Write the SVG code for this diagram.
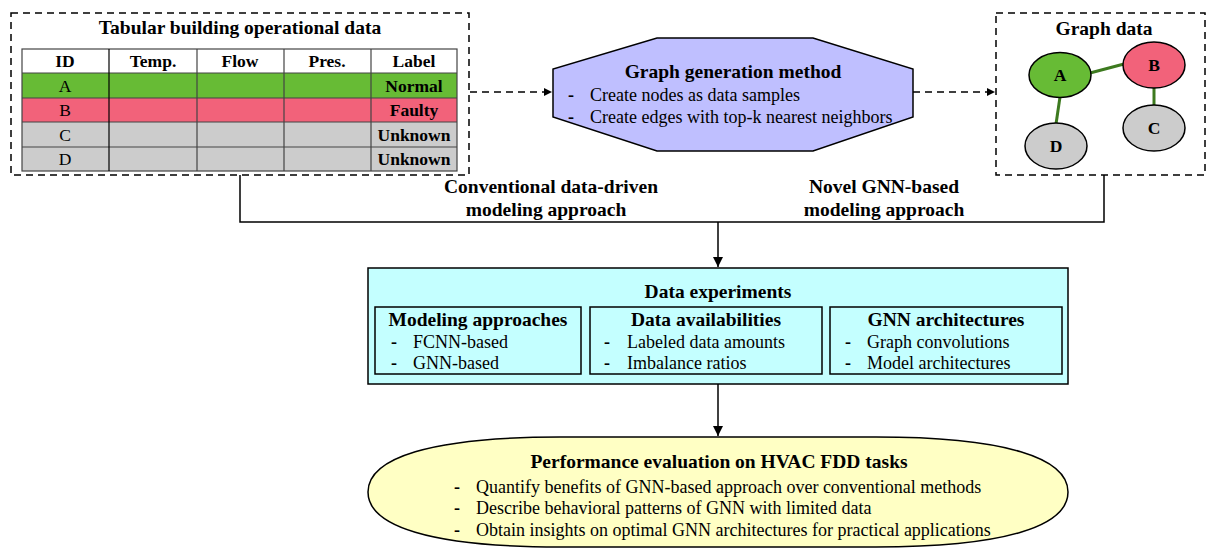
<svg xmlns="http://www.w3.org/2000/svg" width="1213" height="550" viewBox="0 0 1213 550">
<defs>
<marker id="arr" viewBox="0 0 10 10" refX="10" refY="5" markerWidth="10" markerHeight="10" markerUnits="userSpaceOnUse" orient="auto">
<path d="M0,0 L10,5 L0,10 z" fill="#000"/>
</marker>
<marker id="arrS" viewBox="0 0 10 10" refX="10" refY="5" markerWidth="9" markerHeight="8" markerUnits="userSpaceOnUse" orient="auto">
<path d="M0,0 L10,5 L0,10 z" fill="#000"/>
</marker>
</defs>
<style>
text{font-family:"Liberation Serif","Times New Roman",serif;fill:#000}
.t{font-size:19.5px;font-weight:bold;text-anchor:middle}
.b{font-size:18px}
.c{font-size:17.5px;text-anchor:middle}
.cb{font-size:17.5px;font-weight:bold;text-anchor:middle}
.dash{fill:none;stroke:#000;stroke-width:1.5;stroke-dasharray:7,5}
.grid{stroke:#444;stroke-width:1.2}
.line{fill:none;stroke:#000;stroke-width:1.5}
.edge{stroke:#3d7a1f;stroke-width:3}
.node{stroke:#000;stroke-width:1.5}
</style>
<rect width="1213" height="550" fill="#fff"/>

<g id="tabular">
<rect class="dash" x="11" y="13" width="458" height="162"/>
<text class="t" x="240" y="34">Tabular building operational data</text>
<rect x="22" y="49" width="435" height="24" fill="#fff"/>
<rect x="22" y="73" width="435" height="25" fill="#67bb35"/>
<rect x="22" y="98" width="435" height="24" fill="#f2627a"/>
<rect x="22" y="122" width="435" height="49" fill="#cccccc"/>
<g class="grid">
<rect x="22" y="49" width="435" height="122" fill="none"/>
<line x1="22" y1="73" x2="457" y2="73"/>
<line x1="22" y1="98" x2="457" y2="98"/>
<line x1="22" y1="122" x2="457" y2="122"/>
<line x1="22" y1="147" x2="457" y2="147"/>
<line x1="109" y1="49" x2="109" y2="171" stroke="#000"/>
<line x1="197" y1="49" x2="197" y2="171"/>
<line x1="284" y1="49" x2="284" y2="171"/>
<line x1="371" y1="49" x2="371" y2="171"/>
</g>
<text class="cb" x="65" y="67">ID</text>
<text class="cb" x="153" y="67">Temp.</text>
<text class="cb" x="240" y="67">Flow</text>
<text class="cb" x="327" y="67">Pres.</text>
<text class="cb" x="414" y="67">Label</text>
<text class="c" x="65" y="92">A</text>
<text class="cb" x="414" y="92">Normal</text>
<text class="c" x="65" y="116">B</text>
<text class="cb" x="414" y="116">Faulty</text>
<text class="c" x="65" y="141">C</text>
<text class="cb" x="414" y="141">Unknown</text>
<text class="c" x="65" y="165">D</text>
<text class="cb" x="414" y="165">Unknown</text>
</g>

<g id="graph-generation">
<polygon points="657,38 813,38 913,69 913,117 813,151 657,151 553,117 553,69" fill="#bfbfff" stroke="#000" stroke-width="1.5"/>
<text class="t" x="733" y="78">Graph generation method</text>
<text class="b" x="568" y="101" font-weight="bold">-</text>
<text class="b" x="590" y="101">Create nodes as data samples</text>
<text class="b" x="568" y="123" font-weight="bold">-</text>
<text class="b" x="590" y="123">Create edges with top-k nearest neighbors</text>
</g>

<g id="graph-data">
<rect class="dash" x="996" y="13" width="209" height="162"/>
<text class="t" x="1104" y="35">Graph data</text>
<line class="edge" x1="1090" y1="73" x2="1124" y2="64"/>
<line class="edge" x1="1154" y1="88" x2="1154" y2="106"/>
<line class="edge" x1="1060" y1="97" x2="1056" y2="124"/>
<ellipse class="node" cx="1060" cy="75" rx="31" ry="22.5" fill="#67bb35"/>
<ellipse class="node" cx="1154" cy="65" rx="31" ry="23" fill="#f2627a"/>
<ellipse class="node" cx="1154" cy="128" rx="31" ry="23" fill="#cccccc"/>
<ellipse class="node" cx="1056" cy="146" rx="31" ry="23" fill="#cccccc"/>
<text class="cb" x="1060" y="81" font-size="18">A</text>
<text class="cb" x="1154" y="71" font-size="18">B</text>
<text class="cb" x="1154" y="134" font-size="18">C</text>
<text class="cb" x="1056" y="152" font-size="18">D</text>
</g>

<g id="approach-labels">
<text class="t" x="551" y="193">Conventional data-driven</text>
<text class="t" x="546" y="216">modeling approach</text>
<text class="t" x="884" y="193">Novel GNN-based</text>
<text class="t" x="884" y="216">modeling approach</text>
</g>

<g id="data-experiments">
<rect x="368" y="268" width="700" height="116" fill="#c4ffff" stroke="#000" stroke-width="1.5"/>
<text class="t" x="718" y="298">Data experiments</text>
<rect x="375" y="307" width="206" height="67" fill="none" stroke="#000" stroke-width="1.5"/>
<rect x="590" y="307" width="232" height="67" fill="none" stroke="#000" stroke-width="1.5"/>
<rect x="830" y="307" width="232" height="67" fill="none" stroke="#000" stroke-width="1.5"/>
<text class="t" x="478" y="326">Modeling approaches</text>
<text class="b" x="391" y="348" font-weight="bold">-</text>
<text class="b" x="413" y="348">FCNN-based</text>
<text class="b" x="391" y="369" font-weight="bold">-</text>
<text class="b" x="413" y="369">GNN-based</text>
<text class="t" x="706" y="326">Data availabilities</text>
<text class="b" x="604" y="348" font-weight="bold">-</text>
<text class="b" x="627" y="348">Labeled data amounts</text>
<text class="b" x="604" y="369" font-weight="bold">-</text>
<text class="b" x="627" y="369">Imbalance ratios</text>
<text class="t" x="946" y="326">GNN architectures</text>
<text class="b" x="845" y="348" font-weight="bold">-</text>
<text class="b" x="867" y="348">Graph convolutions</text>
<text class="b" x="845" y="369" font-weight="bold">-</text>
<text class="b" x="867" y="369">Model architectures</text>
</g>

<g id="performance-evaluation">
<path d="M368,492 C368,458 430,437 560,437 L876,437 C1006,437 1068,458 1068,492 C1068,526 1006,547 876,547 L560,547 C430,547 368,526 368,492 Z" fill="#ffffc4" stroke="#000" stroke-width="1.5"/>
<text class="t" x="719" y="468">Performance evaluation on HVAC FDD tasks</text>
<text class="b" x="454" y="493" font-weight="bold">-</text>
<text class="b" x="476" y="493">Quantify benefits of GNN-based approach over conventional methods</text>
<text class="b" x="454" y="514" font-weight="bold">-</text>
<text class="b" x="476" y="514">Describe behavioral patterns of GNN with limited data</text>
<text class="b" x="454" y="536" font-weight="bold">-</text>
<text class="b" x="476" y="536">Obtain insights on optimal GNN architectures for practical applications</text>
</g>

<g id="connectors">
<line class="dash" x1="470" y1="92" x2="552" y2="92" marker-end="url(#arrS)"/>
<line class="dash" x1="913" y1="92" x2="995" y2="92" marker-end="url(#arrS)"/>
<polyline class="line" points="240,175 240,222 1104,222 1104,175"/>
<line class="line" x1="718" y1="222" x2="718" y2="267" marker-end="url(#arr)"/>
<line class="line" x1="718" y1="384" x2="718" y2="436" marker-end="url(#arr)"/>
</g>
</svg>
